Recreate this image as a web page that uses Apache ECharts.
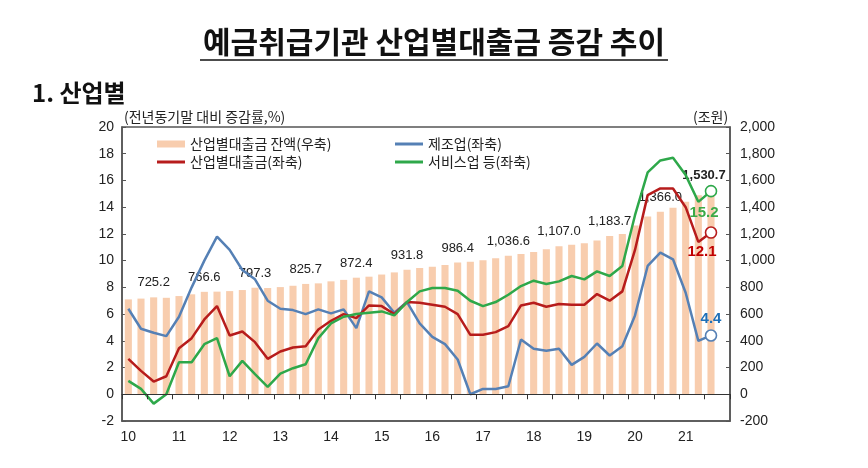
<!DOCTYPE html>
<html>
<head>
<meta charset="utf-8">
<script src="https://cdn.jsdelivr.net/npm/echarts@6/dist/echarts.min.js"></script>
<style>
html,body{margin:0;padding:0;background:#fff;}
#chart{width:868px;height:468px;}
</style>
</head>
<body>
<div id="chart"></div>
<script>
// quarterly categories 2010Q1 .. 2021Q4
const categories = [
  '10.1Q','10.2Q','10.3Q','10.4Q','11.1Q','11.2Q','11.3Q','11.4Q',
  '12.1Q','12.2Q','12.3Q','12.4Q','13.1Q','13.2Q','13.3Q','13.4Q',
  '14.1Q','14.2Q','14.3Q','14.4Q','15.1Q','15.2Q','15.3Q','15.4Q',
  '16.1Q','16.2Q','16.3Q','16.4Q','17.1Q','17.2Q','17.3Q','17.4Q',
  '18.1Q','18.2Q','18.3Q','18.4Q','19.1Q','19.2Q','19.3Q','19.4Q',
  '20.1Q','20.2Q','20.3Q','20.4Q','21.1Q','21.2Q','21.3Q','21.4Q'
];
const tickLabels = ['10','11','12','13','14','15','16','17','18','19','20','21'];

// 산업별대출금 잔액 (조원, right axis)
const balance = [
  710, 716, 725.2, 722, 735, 748, 766.6, 768, 772, 780, 797.3, 795,
  802, 812, 825.7, 830, 845, 856, 872.4, 880, 896, 912, 931.8, 945,
  955, 968, 986.4, 992, 1003, 1018, 1036.6, 1050, 1065, 1085, 1107.0, 1118,
  1130, 1150, 1183.7, 1200, 1262, 1330, 1366.0, 1395, 1440, 1490, 1530.7
];
// 제조업 (좌축, %)
const manufacturing = [
  6.4, 4.9, 4.6, 4.35, 5.8, 8.0, 10.0, 11.8, 10.8, 9.3, 8.6, 7.0,
  6.4, 6.3, 6.0, 6.35, 6.05, 6.35, 4.95, 7.7, 7.25, 6.1, 6.9, 5.3,
  4.3, 3.75, 2.6, 0.0, 0.4, 0.4, 0.6, 4.1, 3.4, 3.25, 3.4, 2.2,
  2.8, 3.8, 2.9, 3.6, 5.9, 9.6, 10.6, 10.1, 7.6, 4.0, 4.4
];
// 산업별대출금 (좌축, %)
const totalLoans = [
  2.65, 1.75, 0.95, 1.35, 3.45, 4.2, 5.6, 6.6, 4.4, 4.7, 3.9, 2.65,
  3.2, 3.5, 3.6, 4.85, 5.5, 6.0, 5.7, 6.65, 6.6, 6.0, 6.9, 6.85,
  6.7, 6.55, 6.0, 4.45, 4.45, 4.65, 5.1, 6.65, 6.85, 6.55, 6.75, 6.7,
  6.7, 7.5, 7.0, 7.7, 10.8, 14.9, 15.4, 15.4, 14.0, 11.4, 12.1
];
// 서비스업 등 (좌축, %)
const services = [
  1.0, 0.4, -0.7, 0.0, 2.4, 2.4, 3.75, 4.2, 1.35, 2.5, 1.5, 0.55,
  1.55, 1.95, 2.25, 4.2, 5.3, 5.8, 6.0, 6.1, 6.2, 5.9, 6.9, 7.7,
  7.95, 7.95, 7.75, 7.0, 6.6, 6.9, 7.45, 8.1, 8.5, 8.25, 8.45, 8.85,
  8.6, 9.2, 8.85, 9.6, 13.4, 16.6, 17.5, 17.7, 16.4, 14.4, 15.2
];

const FONT = "'Liberation Sans','Noto Sans CJK KR',sans-serif";
const KFONT = "'Noto Sans CJK KR','Liberation Sans',sans-serif";

const fmtBal = v => v.toLocaleString('en-US', {minimumFractionDigits: 1, maximumFractionDigits: 1});

const barData = balance.map((v, i) => {
  const labeled = (i % 4 === 2);
  const last = (i === balance.length - 1);
  return {
    value: v,
    label: {
      show: labeled,
      position: 'top',
      distance: 8,
      formatter: p => fmtBal(p.value),
      fontFamily: FONT,
      fontSize: 13,
      color: '#222',
      fontWeight: last ? 'bold' : 'normal',
      offset: last ? [-7, 0] : [0, 0]
    }
  };
});

function lineData(arr, color, labelOpt) {
  return arr.map((v, i) => {
    if (i === arr.length - 1) {
      return {
        value: v,
        symbol: 'circle',
        symbolSize: 11,
        itemStyle: {color: '#fff', borderColor: color, borderWidth: 1.6},
        label: Object.assign({
          show: true,
          formatter: p => p.value.toFixed(1),
          fontFamily: FONT,
          fontSize: 15,
          fontWeight: 'bold',
          color: color
        }, labelOpt)
      };
    }
    return {value: v, symbol: 'none'};
  });
}

const BLUE = '#5580B5';
const RED = '#B71C1C';
const GREEN = '#2EA84A';
const PEACH = '#F8CDAE';

const chart = echarts.init(document.getElementById('chart'), null, {renderer: 'canvas'});
chart.setOption({
  animation: false,
  backgroundColor: '#fff',
  title: [
    {text: '예금취급기관 산업별대출금 증감 추이', left: 'center', top: 22,
     textStyle: {fontFamily: KFONT, fontSize: 30, fontWeight: 'bold', color: '#111'}},
    {text: '1. 산업별', left: 27, top: 76,
     textStyle: {fontFamily: KFONT, fontSize: 24, fontWeight: 'bold', color: '#111'}},
    {text: '(전년동기말 대비 증감률,%)', left: 119, top: 105,
     textStyle: {fontFamily: KFONT, fontSize: 14, fontWeight: 'normal', color: '#222'}},
    {text: '(조원)', left: 688, top: 105,
     textStyle: {fontFamily: KFONT, fontSize: 14, fontWeight: 'normal', color: '#222'}}
  ],
  graphic: [
    {type: 'line', shape: {x1: 200, y1: 60, x2: 668, y2: 60}, style: {stroke: '#111', lineWidth: 1.5}}
  ],
  legend: [
    {left: 152, top: 132, orient: 'vertical', itemWidth: 28, itemHeight: 7, itemGap: 4,
     textStyle: {fontFamily: KFONT, fontSize: 14, color: '#222'},
     data: [
       {name: '산업별대출금 잔액(우축)', icon: 'rect'},
       {name: '산업별대출금(좌축)', icon: 'path://M0,0H28V3H0Z'}
     ]},
    {left: 390, top: 132, orient: 'vertical', itemWidth: 28, itemHeight: 7, itemGap: 4,
     textStyle: {fontFamily: KFONT, fontSize: 14, color: '#222'},
     data: [
       {name: '제조업(좌축)', icon: 'path://M0,0H28V3H0Z'},
       {name: '서비스업 등(좌축)', icon: 'path://M0,0H28V3H0Z'}
     ]}
  ],
  grid: {left: 122, right: 138, top: 127, bottom: 47, show: true,
         borderColor: '#555', borderWidth: 1.5, backgroundColor: 'transparent'},
  xAxis: [
    {type: 'category', data: categories, position: 'bottom', boundaryGap: true,
     axisLine: {show: true, onZero: true, lineStyle: {color: '#333', width: 1.2}},
     axisTick: {show: true, interval: 1, length: 5, lineStyle: {color: '#333'}},
     axisLabel: {show: false}, splitLine: {show: false}, z: 5},
    {type: 'category', data: categories, position: 'bottom', boundaryGap: true,
     axisLine: {show: true, onZero: false, lineStyle: {color: '#555', width: 1.5}},
     axisTick: {show: false},
     axisLabel: {show: true, interval: 3, margin: 9, fontFamily: FONT, fontSize: 14, color: '#222',
                 formatter: (v, i) => tickLabels[Math.floor(i / 4)]},
     splitLine: {show: false}}
  ],
  yAxis: [
    {type: 'value', min: -2, max: 20, interval: 2, position: 'left',
     axisLine: {show: true, lineStyle: {color: '#555', width: 1.5}},
     axisTick: {show: true, inside: true, length: 4, lineStyle: {color: '#555'}},
     axisLabel: {margin: 8, fontFamily: FONT, fontSize: 14, color: '#222'},
     splitLine: {show: false}},
    {type: 'value', min: -200, max: 2000, interval: 200, position: 'right',
     axisLine: {show: true, lineStyle: {color: '#555', width: 1.5}},
     axisTick: {show: true, inside: true, length: 4, lineStyle: {color: '#555'}},
     axisLabel: {margin: 10, fontFamily: FONT, fontSize: 14, color: '#222',
                 formatter: v => v.toLocaleString('en-US')},
     splitLine: {show: false}}
  ],
  series: [
    {name: '산업별대출금 잔액(우축)', type: 'bar', xAxisIndex: 0, yAxisIndex: 1,
     barWidth: '56%', itemStyle: {color: PEACH}, data: barData, z: 1},
    {name: '제조업(좌축)', type: 'line', xAxisIndex: 0, yAxisIndex: 0,
     lineStyle: {color: BLUE, width: 2.5}, itemStyle: {color: BLUE}, symbol: 'circle', showSymbol: true,
     data: lineData(manufacturing, BLUE, {position: 'top', distance: 3, color: '#1F70B8'}), z: 3},
    {name: '산업별대출금(좌축)', type: 'line', xAxisIndex: 0, yAxisIndex: 0,
     lineStyle: {color: RED, width: 2.5}, itemStyle: {color: RED}, symbol: 'circle', showSymbol: true,
     data: lineData(totalLoans, RED, {position: 'bottom', distance: 5, offset: [-9, 0], color: '#C00000'}), z: 4},
    {name: '서비스업 등(좌축)', type: 'line', xAxisIndex: 0, yAxisIndex: 0,
     lineStyle: {color: GREEN, width: 2.5}, itemStyle: {color: GREEN}, symbol: 'circle', showSymbol: true,
     data: lineData(services, GREEN, {position: 'bottom', distance: 8, offset: [-7, 0], color: '#3BAA48'}), z: 4}
  ]
});
</script>
</body>
</html>
